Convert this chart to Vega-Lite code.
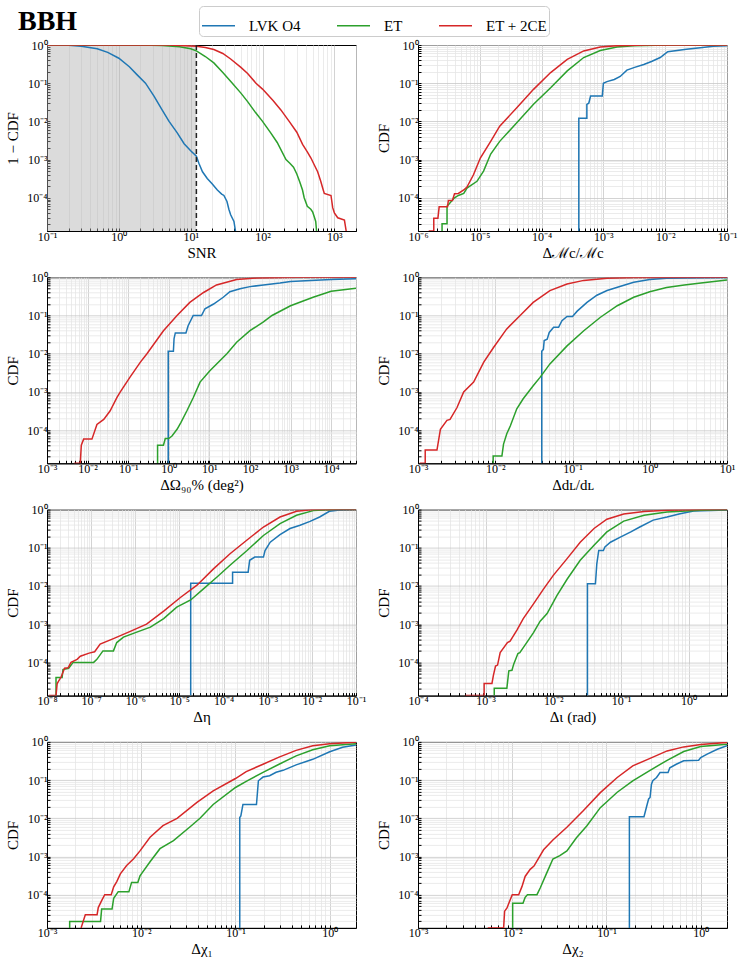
{
"$schema":"https://vega.github.io/schema/vega-lite/v6.json",
"padding":{"left":5,"top":5,"right":5,"bottom":5},
"background":"white",
"title":{"text":"BBH","anchor":"start","frame":"group","font":"Liberation Serif","fontSize":28,"fontWeight":"bold","color":"black","dx":-29,"offset":-30},
"data":{"values":[
{"p":1,"s":"L","x":0.1,"y":1},{"p":1,"s":"L","x":0.2,"y":0.985},{"p":1,"s":"L","x":0.3,"y":0.93},{"p":1,"s":"L","x":0.5,"y":0.8},{"p":1,"s":"L","x":0.7,"y":0.64},{"p":1,"s":"L","x":1,"y":0.45},{"p":1,"s":"L","x":1.4,"y":0.27},{"p":1,"s":"L","x":1.8,"y":0.165},{"p":1,"s":"L","x":2.35,"y":0.1},{"p":1,"s":"L","x":3.1,"y":0.045},{"p":1,"s":"L","x":4,"y":0.02},{"p":1,"s":"L","x":5,"y":0.01},{"p":1,"s":"L","x":6.5,"y":0.005},{"p":1,"s":"L","x":8.1,"y":0.0026},{"p":1,"s":"L","x":10,"y":0.0017},{"p":1,"s":"L","x":12,"y":0.00123},{"p":1,"s":"L","x":13,"y":0.0008},{"p":1,"s":"L","x":14.6,"y":0.00048},{"p":1,"s":"L","x":17,"y":0.00032},{"p":1,"s":"L","x":20,"y":0.00023},{"p":1,"s":"L","x":23.5,"y":0.00016},{"p":1,"s":"L","x":27,"y":0.000125},{"p":1,"s":"L","x":29,"y":0.000115},{"p":1,"s":"L","x":32,"y":0.00008},{"p":1,"s":"L","x":34,"y":0.00005},{"p":1,"s":"L","x":36,"y":0.000036},{"p":1,"s":"L","x":40,"y":0.000024},{"p":1,"s":"L","x":42,"y":0.0000135},
{"p":1,"s":"E","x":0.1,"y":1},{"p":1,"s":"E","x":2,"y":0.999},{"p":1,"s":"E","x":4,"y":0.975},{"p":1,"s":"E","x":7,"y":0.9},{"p":1,"s":"E","x":10,"y":0.8},{"p":1,"s":"E","x":12,"y":0.7},{"p":1,"s":"E","x":16,"y":0.5},{"p":1,"s":"E","x":21,"y":0.34},{"p":1,"s":"E","x":28,"y":0.19},{"p":1,"s":"E","x":38,"y":0.1},{"p":1,"s":"E","x":50,"y":0.055},{"p":1,"s":"E","x":62,"y":0.033},{"p":1,"s":"E","x":80,"y":0.017},{"p":1,"s":"E","x":100,"y":0.01},{"p":1,"s":"E","x":130,"y":0.005},{"p":1,"s":"E","x":160,"y":0.0028},{"p":1,"s":"E","x":212,"y":0.001},{"p":1,"s":"E","x":240,"y":0.0008},{"p":1,"s":"E","x":270,"y":0.00063},{"p":1,"s":"E","x":300,"y":0.00042},{"p":1,"s":"E","x":330,"y":0.00026},{"p":1,"s":"E","x":360,"y":0.00016},{"p":1,"s":"E","x":380,"y":0.0001},{"p":1,"s":"E","x":420,"y":0.00006},{"p":1,"s":"E","x":470,"y":0.00005},{"p":1,"s":"E","x":500,"y":0.000042},{"p":1,"s":"E","x":530,"y":0.00003},{"p":1,"s":"E","x":550,"y":0.000024},{"p":1,"s":"E","x":565,"y":0.0000135},
{"p":1,"s":"R","x":0.1,"y":1},{"p":1,"s":"R","x":5,"y":0.998},{"p":1,"s":"R","x":12,"y":0.93},{"p":1,"s":"R","x":16,"y":0.86},{"p":1,"s":"R","x":21,"y":0.76},{"p":1,"s":"R","x":28,"y":0.6},{"p":1,"s":"R","x":36,"y":0.43},{"p":1,"s":"R","x":50,"y":0.26},{"p":1,"s":"R","x":62,"y":0.18},{"p":1,"s":"R","x":81,"y":0.1},{"p":1,"s":"R","x":100,"y":0.07},{"p":1,"s":"R","x":140,"y":0.035},{"p":1,"s":"R","x":180,"y":0.02},{"p":1,"s":"R","x":235,"y":0.01},{"p":1,"s":"R","x":300,"y":0.0052},{"p":1,"s":"R","x":361,"y":0.0025},{"p":1,"s":"R","x":420,"y":0.0016},{"p":1,"s":"R","x":472,"y":0.0011},{"p":1,"s":"R","x":530,"y":0.0007},{"p":1,"s":"R","x":585,"y":0.00048},{"p":1,"s":"R","x":646,"y":0.00027},{"p":1,"s":"R","x":700,"y":0.00016},{"p":1,"s":"R","x":724,"y":0.00013},{"p":1,"s":"R","x":897,"y":0.000115},{"p":1,"s":"R","x":948,"y":0.000055},{"p":1,"s":"R","x":1000,"y":0.00004},{"p":1,"s":"R","x":1114,"y":0.00003},{"p":1,"s":"R","x":1380,"y":0.000026},{"p":1,"s":"R","x":1460,"y":0.0000135},
{"p":2,"s":"L","x":4e-4,"y":1.35e-5},{"p":2,"s":"L","x":4e-4,"y":0.012},{"p":2,"s":"L","x":5.4e-4,"y":0.012},{"p":2,"s":"L","x":5.4e-4,"y":0.028},{"p":2,"s":"L","x":5.8e-4,"y":0.03},{"p":2,"s":"L","x":6.2e-4,"y":0.046},{"p":2,"s":"L","x":9.6e-4,"y":0.046},{"p":2,"s":"L","x":1e-3,"y":0.1},{"p":2,"s":"L","x":1.14e-3,"y":0.11},{"p":2,"s":"L","x":1.5e-3,"y":0.125},{"p":2,"s":"L","x":1.87e-3,"y":0.15},{"p":2,"s":"L","x":2.4e-3,"y":0.22},{"p":2,"s":"L","x":3.2e-3,"y":0.26},{"p":2,"s":"L","x":4.5e-3,"y":0.31},{"p":2,"s":"L","x":6e-3,"y":0.37},{"p":2,"s":"L","x":8.3e-3,"y":0.47},{"p":2,"s":"L","x":1.1e-2,"y":0.67},{"p":2,"s":"L","x":2.2e-2,"y":0.77},{"p":2,"s":"L","x":3.7e-2,"y":0.85},{"p":2,"s":"L","x":6e-2,"y":0.93},{"p":2,"s":"L","x":0.1,"y":0.96},
{"p":2,"s":"E","x":2.45e-6,"y":1.35e-5},{"p":2,"s":"E","x":2.45e-6,"y":2.1e-5},{"p":2,"s":"E","x":2.95e-6,"y":2.1e-5},{"p":2,"s":"E","x":2.95e-6,"y":6e-5},{"p":2,"s":"E","x":3.9e-6,"y":1e-4},{"p":2,"s":"E","x":4.5e-6,"y":1.15e-4},{"p":2,"s":"E","x":5.5e-6,"y":1.3e-4},{"p":2,"s":"E","x":6.2e-6,"y":1.8e-4},{"p":2,"s":"E","x":9e-6,"y":2.7e-4},{"p":2,"s":"E","x":1.15e-5,"y":5e-4},{"p":2,"s":"E","x":1.5e-5,"y":1.4e-3},{"p":2,"s":"E","x":2.1e-5,"y":3e-3},{"p":2,"s":"E","x":4e-5,"y":9.3e-3},{"p":2,"s":"E","x":7.4e-5,"y":0.028},{"p":2,"s":"E","x":1.4e-4,"y":0.076},{"p":2,"s":"E","x":2.6e-4,"y":0.21},{"p":2,"s":"E","x":4.8e-4,"y":0.47},{"p":2,"s":"E","x":8.9e-4,"y":0.72},{"p":2,"s":"E","x":1.66e-3,"y":0.89},{"p":2,"s":"E","x":3.1e-3,"y":0.96},{"p":2,"s":"E","x":1.1e-2,"y":0.995},{"p":2,"s":"E","x":0.1,"y":1},
{"p":2,"s":"R","x":1.49e-6,"y":1.35e-5},{"p":2,"s":"R","x":1.8e-6,"y":1.35e-5},{"p":2,"s":"R","x":1.8e-6,"y":2.9e-5},{"p":2,"s":"R","x":2.1e-6,"y":2.9e-5},{"p":2,"s":"R","x":2.2e-6,"y":5.8e-5},{"p":2,"s":"R","x":3e-6,"y":5.8e-5},{"p":2,"s":"R","x":3.1e-6,"y":8.5e-5},{"p":2,"s":"R","x":3.6e-6,"y":8.5e-5},{"p":2,"s":"R","x":3.9e-6,"y":1.27e-4},{"p":2,"s":"R","x":4.5e-6,"y":1.3e-4},{"p":2,"s":"R","x":5.5e-6,"y":1.6e-4},{"p":2,"s":"R","x":6.2e-6,"y":1.9e-4},{"p":2,"s":"R","x":7.9e-6,"y":4e-4},{"p":2,"s":"R","x":1.02e-5,"y":1.1e-3},{"p":2,"s":"R","x":1.5e-5,"y":3e-3},{"p":2,"s":"R","x":2.1e-5,"y":7.5e-3},{"p":2,"s":"R","x":4e-5,"y":0.023},{"p":2,"s":"R","x":7.4e-5,"y":0.069},{"p":2,"s":"R","x":1.4e-4,"y":0.19},{"p":2,"s":"R","x":2.6e-4,"y":0.42},{"p":2,"s":"R","x":4.8e-4,"y":0.7},{"p":2,"s":"R","x":8.9e-4,"y":0.89},{"p":2,"s":"R","x":1.66e-3,"y":0.96},{"p":2,"s":"R","x":5e-3,"y":0.995},{"p":2,"s":"R","x":0.1,"y":1},
{"p":3,"s":"L","x":0.97,"y":1.35e-5},{"p":3,"s":"L","x":0.97,"y":0.0115},{"p":3,"s":"L","x":1.3,"y":0.0115},{"p":3,"s":"L","x":1.35,"y":0.025},{"p":3,"s":"L","x":1.45,"y":0.035},{"p":3,"s":"L","x":2.65,"y":0.035},{"p":3,"s":"L","x":3,"y":0.054},{"p":3,"s":"L","x":4,"y":0.1},{"p":3,"s":"L","x":6.4,"y":0.1},{"p":3,"s":"L","x":7.8,"y":0.15},{"p":3,"s":"L","x":12.7,"y":0.2},{"p":3,"s":"L","x":22,"y":0.3},{"p":3,"s":"L","x":32,"y":0.42},{"p":3,"s":"L","x":57,"y":0.5},{"p":3,"s":"L","x":100,"y":0.57},{"p":3,"s":"L","x":215,"y":0.63},{"p":3,"s":"L","x":550,"y":0.71},{"p":3,"s":"L","x":1000,"y":0.78},{"p":3,"s":"L","x":10000,"y":0.88},{"p":3,"s":"L","x":41000,"y":0.92},
{"p":3,"s":"E","x":0.53,"y":1.35e-5},{"p":3,"s":"E","x":0.53,"y":4e-5},{"p":3,"s":"E","x":0.74,"y":4e-5},{"p":3,"s":"E","x":0.82,"y":6e-5},{"p":3,"s":"E","x":1,"y":6e-5},{"p":3,"s":"E","x":1.2,"y":7e-5},{"p":3,"s":"E","x":1.6,"y":1.05e-4},{"p":3,"s":"E","x":2,"y":1.6e-4},{"p":3,"s":"E","x":2.8,"y":3.2e-4},{"p":3,"s":"E","x":4,"y":7e-4},{"p":3,"s":"E","x":5.9,"y":1.8e-3},{"p":3,"s":"E","x":10.3,"y":3.6e-3},{"p":3,"s":"E","x":27,"y":0.01},{"p":3,"s":"E","x":47,"y":0.02},{"p":3,"s":"E","x":100,"y":0.04},{"p":3,"s":"E","x":215,"y":0.068},{"p":3,"s":"E","x":350,"y":0.1},{"p":3,"s":"E","x":1000,"y":0.18},{"p":3,"s":"E","x":3600,"y":0.3},{"p":3,"s":"E","x":10000,"y":0.43},{"p":3,"s":"E","x":41000,"y":0.52},
{"p":3,"s":"R","x":4.7e-3,"y":1.35e-5},{"p":3,"s":"R","x":6.6e-3,"y":1.35e-5},{"p":3,"s":"R","x":7e-3,"y":4e-5},{"p":3,"s":"R","x":8e-3,"y":5.8e-5},{"p":3,"s":"R","x":1.28e-2,"y":5.8e-5},{"p":3,"s":"R","x":1.7e-2,"y":1.4e-4},{"p":3,"s":"R","x":2.5e-2,"y":1.9e-4},{"p":3,"s":"R","x":3.6e-2,"y":3.2e-4},{"p":3,"s":"R","x":5.3e-2,"y":7.2e-4},{"p":3,"s":"R","x":6.4e-2,"y":1e-3},{"p":3,"s":"R","x":0.11,"y":2.4e-3},{"p":3,"s":"R","x":0.2,"y":6e-3},{"p":3,"s":"R","x":0.29,"y":0.01},{"p":3,"s":"R","x":0.74,"y":0.04},{"p":3,"s":"R","x":1.6,"y":0.1},{"p":3,"s":"R","x":3.3,"y":0.22},{"p":3,"s":"R","x":7.2,"y":0.4},{"p":3,"s":"R","x":15,"y":0.63},{"p":3,"s":"R","x":47,"y":0.87},{"p":3,"s":"R","x":147,"y":0.96},{"p":3,"s":"R","x":1400,"y":1},{"p":3,"s":"R","x":41000,"y":1},
{"p":4,"s":"L","x":0.04,"y":1.35e-5},{"p":4,"s":"L","x":0.04,"y":0.0115},{"p":4,"s":"L","x":0.042,"y":0.013},{"p":4,"s":"L","x":0.043,"y":0.022},{"p":4,"s":"L","x":0.047,"y":0.024},{"p":4,"s":"L","x":0.05,"y":0.036},{"p":4,"s":"L","x":0.057,"y":0.049},{"p":4,"s":"L","x":0.066,"y":0.049},{"p":4,"s":"L","x":0.073,"y":0.073},{"p":4,"s":"L","x":0.085,"y":0.094},{"p":4,"s":"L","x":0.1,"y":0.094},{"p":4,"s":"L","x":0.115,"y":0.13},{"p":4,"s":"L","x":0.154,"y":0.22},{"p":4,"s":"L","x":0.207,"y":0.34},{"p":4,"s":"L","x":0.28,"y":0.45},{"p":4,"s":"L","x":0.42,"y":0.58},{"p":4,"s":"L","x":0.62,"y":0.74},{"p":4,"s":"L","x":1,"y":0.87},{"p":4,"s":"L","x":1.65,"y":0.94},{"p":4,"s":"L","x":4.6,"y":0.98},{"p":4,"s":"L","x":10,"y":0.99},
{"p":4,"s":"E","x":9.4e-3,"y":1.35e-5},{"p":4,"s":"E","x":9.4e-3,"y":2.1e-5},{"p":4,"s":"E","x":1.22e-2,"y":2.1e-5},{"p":4,"s":"E","x":1.28e-2,"y":4.3e-5},{"p":4,"s":"E","x":1.41e-2,"y":8e-5},{"p":4,"s":"E","x":1.57e-2,"y":1.3e-4},{"p":4,"s":"E","x":1.9e-2,"y":3.6e-4},{"p":4,"s":"E","x":2.3e-2,"y":6.6e-4},{"p":4,"s":"E","x":3.1e-2,"y":1.45e-3},{"p":4,"s":"E","x":3.8e-2,"y":2.4e-3},{"p":4,"s":"E","x":5.1e-2,"y":5.4e-3},{"p":4,"s":"E","x":8.5e-2,"y":0.016},{"p":4,"s":"E","x":0.14,"y":0.04},{"p":4,"s":"E","x":0.23,"y":0.09},{"p":4,"s":"E","x":0.38,"y":0.18},{"p":4,"s":"E","x":0.62,"y":0.3},{"p":4,"s":"E","x":1,"y":0.42},{"p":4,"s":"E","x":1.65,"y":0.54},{"p":4,"s":"E","x":2.8,"y":0.63},{"p":4,"s":"E","x":4.6,"y":0.71},{"p":4,"s":"E","x":10,"y":0.85},
{"p":4,"s":"R","x":1.05e-3,"y":1.35e-5},{"p":4,"s":"R","x":1.24e-3,"y":1.35e-5},{"p":4,"s":"R","x":1.24e-3,"y":3e-5},{"p":4,"s":"R","x":1.76e-3,"y":3e-5},{"p":4,"s":"R","x":1.95e-3,"y":1.05e-4},{"p":4,"s":"R","x":2.37e-3,"y":1.8e-4},{"p":4,"s":"R","x":2.6e-3,"y":1.9e-4},{"p":4,"s":"R","x":3.2e-3,"y":3.9e-4},{"p":4,"s":"R","x":3.9e-3,"y":1e-3},{"p":4,"s":"R","x":5.25e-3,"y":1.8e-3},{"p":4,"s":"R","x":7.1e-3,"y":6e-3},{"p":4,"s":"R","x":9.5e-3,"y":0.0145},{"p":4,"s":"R","x":1.4e-2,"y":0.044},{"p":4,"s":"R","x":2.1e-2,"y":0.1},{"p":4,"s":"R","x":3.1e-2,"y":0.22},{"p":4,"s":"R","x":5.1e-2,"y":0.45},{"p":4,"s":"R","x":8.5e-2,"y":0.67},{"p":4,"s":"R","x":0.14,"y":0.83},{"p":4,"s":"R","x":0.28,"y":0.94},{"p":4,"s":"R","x":0.62,"y":0.99},{"p":4,"s":"R","x":10,"y":1},
{"p":5,"s":"L","x":1.8e-5,"y":1.35e-5},{"p":5,"s":"L","x":1.8e-5,"y":0.0118},{"p":5,"s":"L","x":1.6e-4,"y":0.0118},{"p":5,"s":"L","x":1.6e-4,"y":0.023},{"p":5,"s":"L","x":3.6e-4,"y":0.023},{"p":5,"s":"L","x":3.9e-4,"y":0.047},{"p":5,"s":"L","x":5.1e-4,"y":0.057},{"p":5,"s":"L","x":8e-4,"y":0.057},{"p":5,"s":"L","x":8.7e-4,"y":0.085},{"p":5,"s":"L","x":1.14e-3,"y":0.14},{"p":5,"s":"L","x":1.9e-3,"y":0.22},{"p":5,"s":"L","x":3.2e-3,"y":0.32},{"p":5,"s":"L","x":5.4e-3,"y":0.39},{"p":5,"s":"L","x":9.1e-3,"y":0.49},{"p":5,"s":"L","x":1.5e-2,"y":0.64},{"p":5,"s":"L","x":2.5e-2,"y":0.9},{"p":5,"s":"L","x":4.3e-2,"y":0.98},{"p":5,"s":"L","x":0.1,"y":1},
{"p":5,"s":"E","x":1.6e-8,"y":1.35e-5},{"p":5,"s":"E","x":1.6e-8,"y":4e-5},{"p":5,"s":"E","x":2.2e-8,"y":4e-5},{"p":5,"s":"E","x":2.3e-8,"y":6.5e-5},{"p":5,"s":"E","x":3.1e-8,"y":7e-5},{"p":5,"s":"E","x":3.9e-8,"y":1e-4},{"p":5,"s":"E","x":1.14e-7,"y":1e-4},{"p":5,"s":"E","x":1.35e-7,"y":1.2e-4},{"p":5,"s":"E","x":1.85e-7,"y":2e-4},{"p":5,"s":"E","x":3.2e-7,"y":2e-4},{"p":5,"s":"E","x":3.8e-7,"y":3.3e-4},{"p":5,"s":"E","x":5.4e-7,"y":4.6e-4},{"p":5,"s":"E","x":1.08e-6,"y":6.2e-4},{"p":5,"s":"E","x":2.2e-6,"y":8.4e-4},{"p":5,"s":"E","x":4.4e-6,"y":1.4e-3},{"p":5,"s":"E","x":8.7e-6,"y":2.8e-3},{"p":5,"s":"E","x":1.8e-5,"y":4.3e-3},{"p":5,"s":"E","x":3.5e-5,"y":8.4e-3},{"p":5,"s":"E","x":7e-5,"y":0.017},{"p":5,"s":"E","x":1.4e-4,"y":0.035},{"p":5,"s":"E","x":3.4e-4,"y":0.085},{"p":5,"s":"E","x":8e-4,"y":0.21},{"p":5,"s":"E","x":1.9e-3,"y":0.43},{"p":5,"s":"E","x":4.5e-3,"y":0.71},{"p":5,"s":"E","x":1.07e-2,"y":0.94},{"p":5,"s":"E","x":3e-2,"y":1},{"p":5,"s":"E","x":0.1,"y":1},
{"p":5,"s":"R","x":1.1e-8,"y":1.35e-5},{"p":5,"s":"R","x":1.6e-8,"y":1.35e-5},{"p":5,"s":"R","x":1.7e-8,"y":2.8e-5},{"p":5,"s":"R","x":2.1e-8,"y":4.2e-5},{"p":5,"s":"R","x":2.5e-8,"y":7e-5},{"p":5,"s":"R","x":3e-8,"y":7.2e-5},{"p":5,"s":"R","x":3.5e-8,"y":1e-4},{"p":5,"s":"R","x":4.8e-8,"y":1.2e-4},{"p":5,"s":"R","x":5.7e-8,"y":1.45e-4},{"p":5,"s":"R","x":9e-8,"y":1.75e-4},{"p":5,"s":"R","x":1.2e-7,"y":1.9e-4},{"p":5,"s":"R","x":1.6e-7,"y":3e-4},{"p":5,"s":"R","x":3.2e-7,"y":4.2e-4},{"p":5,"s":"R","x":7.7e-7,"y":6.5e-4},{"p":5,"s":"R","x":1.8e-6,"y":1e-3},{"p":5,"s":"R","x":4.4e-6,"y":2.2e-3},{"p":5,"s":"R","x":1.05e-5,"y":5e-3},{"p":5,"s":"R","x":2.5e-5,"y":0.0105},{"p":5,"s":"R","x":5.9e-5,"y":0.028},{"p":5,"s":"R","x":1.4e-4,"y":0.07},{"p":5,"s":"R","x":3.4e-4,"y":0.16},{"p":5,"s":"R","x":8e-4,"y":0.35},{"p":5,"s":"R","x":1.9e-3,"y":0.64},{"p":5,"s":"R","x":4.5e-3,"y":0.9},{"p":5,"s":"R","x":1.07e-2,"y":1},{"p":5,"s":"R","x":0.1,"y":1},
{"p":6,"s":"L","x":0.032,"y":1.35e-5},{"p":6,"s":"L","x":0.032,"y":0.0114},{"p":6,"s":"L","x":0.042,"y":0.0114},{"p":6,"s":"L","x":0.044,"y":0.038},{"p":6,"s":"L","x":0.047,"y":0.085},{"p":6,"s":"L","x":0.055,"y":0.085},{"p":6,"s":"L","x":0.058,"y":0.105},{"p":6,"s":"L","x":0.07,"y":0.14},{"p":6,"s":"L","x":0.098,"y":0.19},{"p":6,"s":"L","x":0.14,"y":0.26},{"p":6,"s":"L","x":0.19,"y":0.35},{"p":6,"s":"L","x":0.3,"y":0.53},{"p":6,"s":"L","x":0.48,"y":0.64},{"p":6,"s":"L","x":0.75,"y":0.78},{"p":6,"s":"L","x":1.19,"y":0.92},{"p":6,"s":"L","x":3.7,"y":0.97},
{"p":6,"s":"E","x":1.34e-3,"y":1.35e-5},{"p":6,"s":"E","x":1.34e-3,"y":2.1e-5},{"p":6,"s":"E","x":2.06e-3,"y":2.1e-5},{"p":6,"s":"E","x":2.2e-3,"y":6e-5},{"p":6,"s":"E","x":2.45e-3,"y":6.2e-5},{"p":6,"s":"E","x":2.6e-3,"y":9e-5},{"p":6,"s":"E","x":3e-3,"y":1.7e-4},{"p":6,"s":"E","x":3.2e-3,"y":1.8e-4},{"p":6,"s":"E","x":4e-3,"y":3.2e-4},{"p":6,"s":"E","x":5.1e-3,"y":6e-4},{"p":6,"s":"E","x":6.4e-3,"y":1.2e-3},{"p":6,"s":"E","x":8.1e-3,"y":1.9e-3},{"p":6,"s":"E","x":1.13e-2,"y":5.6e-3},{"p":6,"s":"E","x":1.6e-2,"y":0.015},{"p":6,"s":"E","x":2.5e-2,"y":0.047},{"p":6,"s":"E","x":4e-2,"y":0.116},{"p":6,"s":"E","x":6.2e-2,"y":0.26},{"p":6,"s":"E","x":0.11,"y":0.5},{"p":6,"s":"E","x":0.22,"y":0.71},{"p":6,"s":"E","x":0.48,"y":0.87},{"p":6,"s":"E","x":1.5,"y":0.96},{"p":6,"s":"E","x":3.7,"y":0.99},
{"p":6,"s":"R","x":5e-4,"y":1.35e-5},{"p":6,"s":"R","x":9.5e-4,"y":1.35e-5},{"p":6,"s":"R","x":9.5e-4,"y":2.8e-5},{"p":6,"s":"R","x":1.24e-3,"y":2.8e-5},{"p":6,"s":"R","x":1.3e-3,"y":4.5e-5},{"p":6,"s":"R","x":1.4e-3,"y":8e-5},{"p":6,"s":"R","x":1.5e-3,"y":8.5e-5},{"p":6,"s":"R","x":1.64e-3,"y":1.8e-4},{"p":6,"s":"R","x":2.1e-3,"y":3.3e-4},{"p":6,"s":"R","x":2.3e-3,"y":3.6e-4},{"p":6,"s":"R","x":2.9e-3,"y":7e-4},{"p":6,"s":"R","x":3.6e-3,"y":1.4e-3},{"p":6,"s":"R","x":5.1e-3,"y":3.4e-3},{"p":6,"s":"R","x":7.2e-3,"y":8.4e-3},{"p":6,"s":"R","x":1e-2,"y":0.019},{"p":6,"s":"R","x":1.6e-2,"y":0.052},{"p":6,"s":"R","x":2.5e-2,"y":0.14},{"p":6,"s":"R","x":4e-2,"y":0.32},{"p":6,"s":"R","x":6.2e-2,"y":0.56},{"p":6,"s":"R","x":0.11,"y":0.77},{"p":6,"s":"R","x":0.22,"y":0.89},{"p":6,"s":"R","x":0.48,"y":0.96},{"p":6,"s":"R","x":1.5,"y":1},{"p":6,"s":"R","x":3.7,"y":1},
{"p":7,"s":"L","x":0.111,"y":1.35e-5},{"p":7,"s":"L","x":0.111,"y":0.0105},{"p":7,"s":"L","x":0.114,"y":0.0115},{"p":7,"s":"L","x":0.12,"y":0.023},{"p":7,"s":"L","x":0.167,"y":0.023},{"p":7,"s":"L","x":0.175,"y":0.096},{"p":7,"s":"L","x":0.196,"y":0.12},{"p":7,"s":"L","x":0.23,"y":0.13},{"p":7,"s":"L","x":0.27,"y":0.16},{"p":7,"s":"L","x":0.32,"y":0.18},{"p":7,"s":"L","x":0.44,"y":0.25},{"p":7,"s":"L","x":0.66,"y":0.35},{"p":7,"s":"L","x":1,"y":0.55},{"p":7,"s":"L","x":1.37,"y":0.72},{"p":7,"s":"L","x":1.9,"y":0.83},
{"p":7,"s":"E","x":1.74e-3,"y":1.35e-5},{"p":7,"s":"E","x":1.74e-3,"y":2e-5},{"p":7,"s":"E","x":3.7e-3,"y":2e-5},{"p":7,"s":"E","x":3.8e-3,"y":4.2e-5},{"p":7,"s":"E","x":4.9e-3,"y":4.2e-5},{"p":7,"s":"E","x":5.1e-3,"y":8e-5},{"p":7,"s":"E","x":5.7e-3,"y":1.2e-4},{"p":7,"s":"E","x":7.4e-3,"y":1.2e-4},{"p":7,"s":"E","x":7.9e-3,"y":2.1e-4},{"p":7,"s":"E","x":9.2e-3,"y":2.1e-4},{"p":7,"s":"E","x":9.7e-3,"y":3.1e-4},{"p":7,"s":"E","x":1.24e-2,"y":7.3e-4},{"p":7,"s":"E","x":1.58e-2,"y":1.6e-3},{"p":7,"s":"E","x":2.2e-2,"y":2.6e-3},{"p":7,"s":"E","x":3.3e-2,"y":6e-3},{"p":7,"s":"E","x":4.2e-2,"y":0.01},{"p":7,"s":"E","x":5.8e-2,"y":0.023},{"p":7,"s":"E","x":0.1,"y":0.064},{"p":7,"s":"E","x":0.13,"y":0.093},{"p":7,"s":"E","x":0.196,"y":0.16},{"p":7,"s":"E","x":0.29,"y":0.26},{"p":7,"s":"E","x":0.44,"y":0.43},{"p":7,"s":"E","x":0.66,"y":0.62},{"p":7,"s":"E","x":1,"y":0.79},{"p":7,"s":"E","x":1.9,"y":0.9},
{"p":7,"s":"R","x":2.3e-3,"y":1.35e-5},{"p":7,"s":"R","x":2.55e-3,"y":3e-5},{"p":7,"s":"R","x":3.4e-3,"y":3e-5},{"p":7,"s":"R","x":3.5e-3,"y":4.6e-5},{"p":7,"s":"R","x":3.8e-3,"y":7e-5},{"p":7,"s":"R","x":4.1e-3,"y":1e-4},{"p":7,"s":"R","x":4.8e-3,"y":1e-4},{"p":7,"s":"R","x":5.1e-3,"y":1.6e-4},{"p":7,"s":"R","x":5.5e-3,"y":2.2e-4},{"p":7,"s":"R","x":6e-3,"y":3.5e-4},{"p":7,"s":"R","x":7e-3,"y":5.8e-4},{"p":7,"s":"R","x":8.3e-3,"y":8.7e-4},{"p":7,"s":"R","x":9.7e-3,"y":1.4e-3},{"p":7,"s":"R","x":1.24e-2,"y":3.2e-3},{"p":7,"s":"R","x":1.7e-2,"y":6.4e-3},{"p":7,"s":"R","x":2.4e-2,"y":0.01},{"p":7,"s":"R","x":3.9e-2,"y":0.026},{"p":7,"s":"R","x":5.8e-2,"y":0.052},{"p":7,"s":"R","x":0.1,"y":0.11},{"p":7,"s":"R","x":0.13,"y":0.167},{"p":7,"s":"R","x":0.196,"y":0.26},{"p":7,"s":"R","x":0.29,"y":0.4},{"p":7,"s":"R","x":0.44,"y":0.6},{"p":7,"s":"R","x":0.66,"y":0.79},{"p":7,"s":"R","x":1,"y":0.9},{"p":7,"s":"R","x":1.9,"y":0.98},
{"p":8,"s":"L","x":0.175,"y":1.35e-5},{"p":8,"s":"L","x":0.175,"y":0.011},{"p":8,"s":"L","x":0.25,"y":0.011},{"p":8,"s":"L","x":0.26,"y":0.016},{"p":8,"s":"L","x":0.27,"y":0.023},{"p":8,"s":"L","x":0.28,"y":0.032},{"p":8,"s":"L","x":0.29,"y":0.035},{"p":8,"s":"L","x":0.3,"y":0.078},{"p":8,"s":"L","x":0.31,"y":0.096},{"p":8,"s":"L","x":0.34,"y":0.117},{"p":8,"s":"L","x":0.37,"y":0.158},{"p":8,"s":"L","x":0.45,"y":0.158},{"p":8,"s":"L","x":0.47,"y":0.21},{"p":8,"s":"L","x":0.55,"y":0.26},{"p":8,"s":"L","x":0.66,"y":0.32},{"p":8,"s":"L","x":0.95,"y":0.33},{"p":8,"s":"L","x":1,"y":0.39},{"p":8,"s":"L","x":1.17,"y":0.48},{"p":8,"s":"L","x":1.5,"y":0.64},{"p":8,"s":"L","x":1.9,"y":0.79},
{"p":8,"s":"E","x":1.01e-2,"y":1.35e-5},{"p":8,"s":"E","x":1.01e-2,"y":6e-5},{"p":8,"s":"E","x":1.3e-2,"y":6e-5},{"p":8,"s":"E","x":1.37e-2,"y":8.5e-5},{"p":8,"s":"E","x":1.45e-2,"y":1e-4},{"p":8,"s":"E","x":1.83e-2,"y":1e-4},{"p":8,"s":"E","x":1.98e-2,"y":1.5e-4},{"p":8,"s":"E","x":2.3e-2,"y":3.5e-4},{"p":8,"s":"E","x":2.7e-2,"y":8.6e-4},{"p":8,"s":"E","x":3.2e-2,"y":1.05e-3},{"p":8,"s":"E","x":3.8e-2,"y":1.4e-3},{"p":8,"s":"E","x":4.8e-2,"y":3.1e-3},{"p":8,"s":"E","x":6.2e-2,"y":6.4e-3},{"p":8,"s":"E","x":8.6e-2,"y":0.019},{"p":8,"s":"E","x":0.13,"y":0.048},{"p":8,"s":"E","x":0.19,"y":0.096},{"p":8,"s":"E","x":0.29,"y":0.18},{"p":8,"s":"E","x":0.44,"y":0.33},{"p":8,"s":"E","x":0.66,"y":0.56},{"p":8,"s":"E","x":1,"y":0.76},{"p":8,"s":"E","x":1.9,"y":0.87},
{"p":8,"s":"R","x":5.5e-3,"y":1.35e-5},{"p":8,"s":"R","x":8.1e-3,"y":1.35e-5},{"p":8,"s":"R","x":8.3e-3,"y":3.7e-5},{"p":8,"s":"R","x":8.8e-3,"y":4.5e-5},{"p":8,"s":"R","x":9.2e-3,"y":6e-5},{"p":8,"s":"R","x":1e-2,"y":1e-4},{"p":8,"s":"R","x":1.17e-2,"y":1e-4},{"p":8,"s":"R","x":1.27e-2,"y":1.65e-4},{"p":8,"s":"R","x":1.37e-2,"y":3e-4},{"p":8,"s":"R","x":1.55e-2,"y":4.6e-4},{"p":8,"s":"R","x":1.7e-2,"y":5.6e-4},{"p":8,"s":"R","x":2.15e-2,"y":1.5e-3},{"p":8,"s":"R","x":2.7e-2,"y":2.7e-3},{"p":8,"s":"R","x":3.8e-2,"y":5.8e-3},{"p":8,"s":"R","x":5.7e-2,"y":0.016},{"p":8,"s":"R","x":8.6e-2,"y":0.047},{"p":8,"s":"R","x":0.13,"y":0.117},{"p":8,"s":"R","x":0.19,"y":0.236},{"p":8,"s":"R","x":0.29,"y":0.37},{"p":8,"s":"R","x":0.44,"y":0.58},{"p":8,"s":"R","x":0.66,"y":0.74},{"p":8,"s":"R","x":1,"y":0.86},{"p":8,"s":"R","x":1.9,"y":0.97}
]},
"columns":2,
"spacing":{"row":46.3,"column":62},
"bounds":"flush",
"concat":[
{"width":309,"height":186,
 "layer":[
  {"data":{"values":[{"x":0.1,"x2":12}]},
   "mark":{"type":"rect","color":"#b0b0b0","opacity":0.45},
   "encoding":{
    "x":{"field":"x","type":"quantitative","title":"SNR","scale":{"type":"log","domain":[0.1,2000],"nice":false},"axis":{"values":[0.1,0.2,0.3,0.4,0.5,0.6,0.7,0.8,0.9,1,2,3,4,5,6,7,8,9,10,20,30,40,50,60,70,80,90,100,200,300,400,500,600,700,800,900,1000,2000]}},
    "x2":{"field":"x2"},
    "y":{"datum":1.35e-5,"type":"quantitative","title":"1 − CDF","scale":{"type":"log","domain":[1.35e-5,1],"nice":false},"axis":{"values":[2e-5,3e-5,4e-5,5e-5,6e-5,7e-5,8e-5,9e-5,1e-4,2e-4,3e-4,4e-4,5e-4,6e-4,7e-4,8e-4,9e-4,0.001,0.002,0.003,0.004,0.005,0.006,0.007,0.008,0.009,0.01,0.02,0.03,0.04,0.05,0.06,0.07,0.08,0.09,0.1,0.2,0.3,0.4,0.5,0.6,0.7,0.8,0.9,1]}},
    "y2":{"datum":1}}},
  {"transform":[{"filter":"datum.p==1"},{"window":[{"op":"row_number","as":"i"}],"groupby":["s"]}],
   "mark":{"type":"line","strokeWidth":1.5,"clip":true},
   "encoding":{
    "x":{"field":"x","type":"quantitative","title":"SNR"},
    "y":{"field":"y","type":"quantitative","title":"1 − CDF"},
    "color":{"field":"s","type":"nominal","scale":{"domain":["L","E","R"],"range":["#1f77b4","#2ca02c","#d62728"]},
      "legend":{"orient":"none","legendX":152,"legendY":-39,"direction":"horizontal","title":null,"symbolType":"stroke","symbolSize":1089,"symbolStrokeWidth":1.5,"labelOffset":13,"columnPadding":33,"padding":2,"strokeColor":"#cccccc","fillColor":"white","cornerRadius":4,"labelFont":"Liberation Serif","labelFontSize":15,"labelColor":"black","labelExpr":"datum.label=='L'?'LVK O4':datum.label=='E'?'ET':'ET + 2CE'"}},
    "order":{"field":"i"}}},
  {"data":{"values":[{"x":12}]},
   "mark":{"type":"rule","strokeDash":[5,3],"strokeWidth":1.5,"color":"#222222"},
   "encoding":{"x":{"field":"x","type":"quantitative","title":"SNR"}}}
 ]},
{"width":309,"height":186,
 "transform":[{"filter":"datum.p==2"},{"window":[{"op":"row_number","as":"i"}],"groupby":["s"]}],
 "mark":{"type":"line","strokeWidth":1.5,"clip":true},
 "encoding":{
  "x":{"field":"x","type":"quantitative","title":"Δℳc/ℳc","scale":{"type":"log","domain":[1e-6,0.1],"nice":false},"axis":{"values":[1e-6,2e-6,3e-6,4e-6,5e-6,6e-6,7e-6,8e-6,9e-6,1e-5,2e-5,3e-5,4e-5,5e-5,6e-5,7e-5,8e-5,9e-5,1e-4,2e-4,3e-4,4e-4,5e-4,6e-4,7e-4,8e-4,9e-4,0.001,0.002,0.003,0.004,0.005,0.006,0.007,0.008,0.009,0.01,0.02,0.03,0.04,0.05,0.06,0.07,0.08,0.09,0.1]}},
  "y":{"field":"y","type":"quantitative","title":"CDF","scale":{"type":"log","domain":[1.35e-5,1],"nice":false},"axis":{"values":[2e-5,3e-5,4e-5,5e-5,6e-5,7e-5,8e-5,9e-5,1e-4,2e-4,3e-4,4e-4,5e-4,6e-4,7e-4,8e-4,9e-4,0.001,0.002,0.003,0.004,0.005,0.006,0.007,0.008,0.009,0.01,0.02,0.03,0.04,0.05,0.06,0.07,0.08,0.09,0.1,0.2,0.3,0.4,0.5,0.6,0.7,0.8,0.9,1]}},
  "color":{"field":"s","type":"nominal","scale":{"domain":["L","E","R"],"range":["#1f77b4","#2ca02c","#d62728"]}},
  "order":{"field":"i"}}},
{"width":309,"height":186,
 "transform":[{"filter":"datum.p==3"},{"window":[{"op":"row_number","as":"i"}],"groupby":["s"]}],
 "mark":{"type":"line","strokeWidth":1.5,"clip":true},
 "encoding":{
  "x":{"field":"x","type":"quantitative","title":"ΔΩ₉₀% (deg²)","scale":{"type":"log","domain":[0.001,41000],"nice":false},"axis":{"values":[0.001,0.002,0.003,0.004,0.005,0.006,0.007,0.008,0.009,0.01,0.02,0.03,0.04,0.05,0.06,0.07,0.08,0.09,0.1,0.2,0.3,0.4,0.5,0.6,0.7,0.8,0.9,1,2,3,4,5,6,7,8,9,10,20,30,40,50,60,70,80,90,100,200,300,400,500,600,700,800,900,1000,2000,3000,4000,5000,6000,7000,8000,9000,10000,20000,30000,40000]}},
  "y":{"field":"y","type":"quantitative","title":"CDF","scale":{"type":"log","domain":[1.35e-5,1],"nice":false},"axis":{"values":[2e-5,3e-5,4e-5,5e-5,6e-5,7e-5,8e-5,9e-5,1e-4,2e-4,3e-4,4e-4,5e-4,6e-4,7e-4,8e-4,9e-4,0.001,0.002,0.003,0.004,0.005,0.006,0.007,0.008,0.009,0.01,0.02,0.03,0.04,0.05,0.06,0.07,0.08,0.09,0.1,0.2,0.3,0.4,0.5,0.6,0.7,0.8,0.9,1]}},
  "color":{"field":"s","type":"nominal","scale":{"domain":["L","E","R"],"range":["#1f77b4","#2ca02c","#d62728"]}},
  "order":{"field":"i"}}},
{"width":309,"height":186,
 "transform":[{"filter":"datum.p==4"},{"window":[{"op":"row_number","as":"i"}],"groupby":["s"]}],
 "mark":{"type":"line","strokeWidth":1.5,"clip":true},
 "encoding":{
  "x":{"field":"x","type":"quantitative","title":"Δdʟ/dʟ","scale":{"type":"log","domain":[0.001,10],"nice":false},"axis":{"values":[0.001,0.002,0.003,0.004,0.005,0.006,0.007,0.008,0.009,0.01,0.02,0.03,0.04,0.05,0.06,0.07,0.08,0.09,0.1,0.2,0.3,0.4,0.5,0.6,0.7,0.8,0.9,1,2,3,4,5,6,7,8,9,10]}},
  "y":{"field":"y","type":"quantitative","title":"CDF","scale":{"type":"log","domain":[1.35e-5,1],"nice":false},"axis":{"values":[2e-5,3e-5,4e-5,5e-5,6e-5,7e-5,8e-5,9e-5,1e-4,2e-4,3e-4,4e-4,5e-4,6e-4,7e-4,8e-4,9e-4,0.001,0.002,0.003,0.004,0.005,0.006,0.007,0.008,0.009,0.01,0.02,0.03,0.04,0.05,0.06,0.07,0.08,0.09,0.1,0.2,0.3,0.4,0.5,0.6,0.7,0.8,0.9,1]}},
  "color":{"field":"s","type":"nominal","scale":{"domain":["L","E","R"],"range":["#1f77b4","#2ca02c","#d62728"]}},
  "order":{"field":"i"}}},
{"width":309,"height":186,
 "transform":[{"filter":"datum.p==5"},{"window":[{"op":"row_number","as":"i"}],"groupby":["s"]}],
 "mark":{"type":"line","strokeWidth":1.5,"clip":true},
 "encoding":{
  "x":{"field":"x","type":"quantitative","title":"Δη","scale":{"type":"log","domain":[1e-8,0.1],"nice":false},"axis":{"values":[1e-8,2e-8,3e-8,4e-8,5e-8,6e-8,7e-8,8e-8,9e-8,1e-7,2e-7,3e-7,4e-7,5e-7,6e-7,7e-7,8e-7,9e-7,1e-6,2e-6,3e-6,4e-6,5e-6,6e-6,7e-6,8e-6,9e-6,1e-5,2e-5,3e-5,4e-5,5e-5,6e-5,7e-5,8e-5,9e-5,1e-4,2e-4,3e-4,4e-4,5e-4,6e-4,7e-4,8e-4,9e-4,0.001,0.002,0.003,0.004,0.005,0.006,0.007,0.008,0.009,0.01,0.02,0.03,0.04,0.05,0.06,0.07,0.08,0.09,0.1]}},
  "y":{"field":"y","type":"quantitative","title":"CDF","scale":{"type":"log","domain":[1.35e-5,1],"nice":false},"axis":{"values":[2e-5,3e-5,4e-5,5e-5,6e-5,7e-5,8e-5,9e-5,1e-4,2e-4,3e-4,4e-4,5e-4,6e-4,7e-4,8e-4,9e-4,0.001,0.002,0.003,0.004,0.005,0.006,0.007,0.008,0.009,0.01,0.02,0.03,0.04,0.05,0.06,0.07,0.08,0.09,0.1,0.2,0.3,0.4,0.5,0.6,0.7,0.8,0.9,1]}},
  "color":{"field":"s","type":"nominal","scale":{"domain":["L","E","R"],"range":["#1f77b4","#2ca02c","#d62728"]}},
  "order":{"field":"i"}}},
{"width":309,"height":186,
 "transform":[{"filter":"datum.p==6"},{"window":[{"op":"row_number","as":"i"}],"groupby":["s"]}],
 "mark":{"type":"line","strokeWidth":1.5,"clip":true},
 "encoding":{
  "x":{"field":"x","type":"quantitative","title":"Δι (rad)","scale":{"type":"log","domain":[1e-4,3.7],"nice":false},"axis":{"values":[1e-4,2e-4,3e-4,4e-4,5e-4,6e-4,7e-4,8e-4,9e-4,0.001,0.002,0.003,0.004,0.005,0.006,0.007,0.008,0.009,0.01,0.02,0.03,0.04,0.05,0.06,0.07,0.08,0.09,0.1,0.2,0.3,0.4,0.5,0.6,0.7,0.8,0.9,1,2,3]}},
  "y":{"field":"y","type":"quantitative","title":"CDF","scale":{"type":"log","domain":[1.35e-5,1],"nice":false},"axis":{"values":[2e-5,3e-5,4e-5,5e-5,6e-5,7e-5,8e-5,9e-5,1e-4,2e-4,3e-4,4e-4,5e-4,6e-4,7e-4,8e-4,9e-4,0.001,0.002,0.003,0.004,0.005,0.006,0.007,0.008,0.009,0.01,0.02,0.03,0.04,0.05,0.06,0.07,0.08,0.09,0.1,0.2,0.3,0.4,0.5,0.6,0.7,0.8,0.9,1]}},
  "color":{"field":"s","type":"nominal","scale":{"domain":["L","E","R"],"range":["#1f77b4","#2ca02c","#d62728"]}},
  "order":{"field":"i"}}},
{"width":309,"height":186,
 "transform":[{"filter":"datum.p==7"},{"window":[{"op":"row_number","as":"i"}],"groupby":["s"]}],
 "mark":{"type":"line","strokeWidth":1.5,"clip":true},
 "encoding":{
  "x":{"field":"x","type":"quantitative","title":"Δχ₁","scale":{"type":"log","domain":[0.001,1.9],"nice":false},"axis":{"values":[0.001,0.002,0.003,0.004,0.005,0.006,0.007,0.008,0.009,0.01,0.02,0.03,0.04,0.05,0.06,0.07,0.08,0.09,0.1,0.2,0.3,0.4,0.5,0.6,0.7,0.8,0.9,1]}},
  "y":{"field":"y","type":"quantitative","title":"CDF","scale":{"type":"log","domain":[1.35e-5,1],"nice":false},"axis":{"values":[2e-5,3e-5,4e-5,5e-5,6e-5,7e-5,8e-5,9e-5,1e-4,2e-4,3e-4,4e-4,5e-4,6e-4,7e-4,8e-4,9e-4,0.001,0.002,0.003,0.004,0.005,0.006,0.007,0.008,0.009,0.01,0.02,0.03,0.04,0.05,0.06,0.07,0.08,0.09,0.1,0.2,0.3,0.4,0.5,0.6,0.7,0.8,0.9,1]}},
  "color":{"field":"s","type":"nominal","scale":{"domain":["L","E","R"],"range":["#1f77b4","#2ca02c","#d62728"]}},
  "order":{"field":"i"}}},
{"width":309,"height":186,
 "transform":[{"filter":"datum.p==8"},{"window":[{"op":"row_number","as":"i"}],"groupby":["s"]}],
 "mark":{"type":"line","strokeWidth":1.5,"clip":true},
 "encoding":{
  "x":{"field":"x","type":"quantitative","title":"Δχ₂","scale":{"type":"log","domain":[0.001,1.9],"nice":false},"axis":{"values":[0.001,0.002,0.003,0.004,0.005,0.006,0.007,0.008,0.009,0.01,0.02,0.03,0.04,0.05,0.06,0.07,0.08,0.09,0.1,0.2,0.3,0.4,0.5,0.6,0.7,0.8,0.9,1]}},
  "y":{"field":"y","type":"quantitative","title":"CDF","scale":{"type":"log","domain":[1.35e-5,1],"nice":false},"axis":{"values":[2e-5,3e-5,4e-5,5e-5,6e-5,7e-5,8e-5,9e-5,1e-4,2e-4,3e-4,4e-4,5e-4,6e-4,7e-4,8e-4,9e-4,0.001,0.002,0.003,0.004,0.005,0.006,0.007,0.008,0.009,0.01,0.02,0.03,0.04,0.05,0.06,0.07,0.08,0.09,0.1,0.2,0.3,0.4,0.5,0.6,0.7,0.8,0.9,1]}},
  "color":{"field":"s","type":"nominal","scale":{"domain":["L","E","R"],"range":["#1f77b4","#2ca02c","#d62728"]}},
  "order":{"field":"i"}}}
],
"config":{
 "font":"Liberation Serif",
 "view":{"stroke":"black","strokeWidth":1},
 "axis":{
  "labelFont":"Liberation Serif","labelFontSize":12,"labelColor":"black","labelFlush":false,"labelOverlap":false,"labelPadding":3,
  "titleFont":"Liberation Serif","titleFontSize":15,"titleFontWeight":"normal","titleColor":"black",
  "domainColor":"black","tickColor":"black","tickSize":-3,
  "labelExpr":"abs(log(datum.value)/LN10-round(log(datum.value)/LN10))<0.001?['10⁻⁸','10⁻⁷','10⁻⁶','10⁻⁵','10⁻⁴','10⁻³','10⁻²','10⁻¹','10⁰','10¹','10²','10³','10⁴'][round(log(datum.value)/LN10)+8]:''",
  "gridColor":{"condition":{"test":"abs(log(datum.value)/LN10-round(log(datum.value)/LN10))<0.001","value":"#c8c8c8"},"value":"#e6e6e6"},
  "gridWidth":0.8
 },
 "axisX":{"titlePadding":3},
 "axisY":{"titlePadding":6}
}
}
